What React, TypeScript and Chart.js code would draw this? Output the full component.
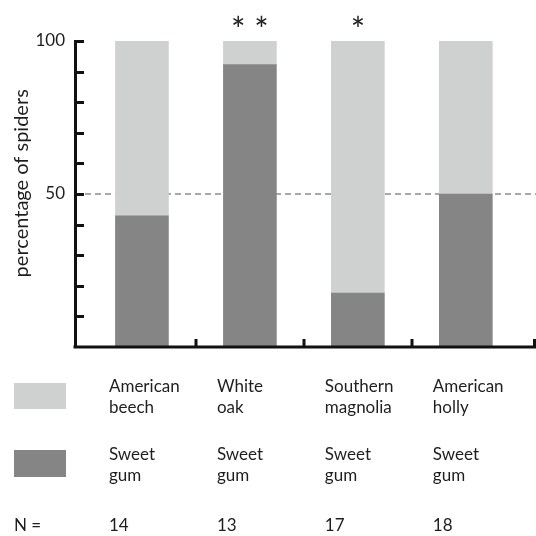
import React, { useEffect, useRef } from "react";
import { Chart, registerables } from "chart.js";

Chart.register(...registerables);

const categoryTop = [["American", "beech"], ["White", "oak"], ["Southern", "magnolia"], ["American", "holly"]];
const categoryBottom = [["Sweet", "gum"], ["Sweet", "gum"], ["Sweet", "gum"], ["Sweet", "gum"]];
const sweetGumPct = [42.86, 92.31, 17.65, 50];
const otherPct = [57.14, 7.69, 82.35, 50];
const nValues = [14, 13, 17, 18];
const significance = ["* *", "*"];
const significanceAt = [1, 2];
const yTickLabels = [50, 100];
const yMinorTicks = [10, 20, 30, 40, 50, 60, 70, 80, 90, 100];
const xTickValues = [0.5, 1.5, 2.5];
const yTitle = "percentage of spiders";

const LIGHT = "#cfd1d0";
const DARK = "#858585";
const TEXT = "#1e1e1e";
const FONT = "Lato, 'Open Sans', sans-serif";

export default function App() {
  const ref = useRef<HTMLCanvasElement | null>(null);

  useEffect(() => {
    const canvas = ref.current;
    if (!canvas) return;

    const refPlugin = {
      id: "refline",
      beforeDatasetsDraw(chart: any) {
        const { ctx, chartArea, scales } = chart;
        const y = scales.y.getPixelForValue(50);
        ctx.save();
        ctx.strokeStyle = "#a9a9a9";
        ctx.lineWidth = 2;
        ctx.setLineDash([6, 4]);
        ctx.beginPath();
        ctx.moveTo(chartArea.left, y);
        ctx.lineTo(chartArea.right, y);
        ctx.stroke();
        ctx.restore();
      },
    };

    const decoPlugin = {
      id: "deco",
      afterDraw(chart: any) {
        const { ctx, chartArea, scales } = chart;
        const xs = scales.x;
        const ys = scales.y;
        ctx.save();
        ctx.strokeStyle = "#111";
        ctx.lineWidth = 3;
        yMinorTicks.forEach((v) => {
          const py = Math.round(ys.getPixelForValue(v)) + 0.5;
          ctx.beginPath();
          ctx.moveTo(chartArea.left, py);
          ctx.lineTo(chartArea.left + 9, py);
          ctx.stroke();
        });
        const bottom = ys.getPixelForValue(0);
        ctx.beginPath();
        ctx.moveTo(chartArea.left - 1.5, bottom);
        ctx.lineTo(chartArea.right, bottom);
        ctx.stroke();
        [...xTickValues, xs.max].forEach((v) => {
          const px = Math.min(Math.round(xs.getPixelForValue(v)), chartArea.right - 1.5);
          ctx.beginPath();
          ctx.moveTo(px, bottom);
          ctx.lineTo(px, bottom - 8);
          ctx.stroke();
        });

        // y-axis title
        ctx.save();
        ctx.fillStyle = TEXT;
        ctx.font = `20px ${FONT}`;
        ctx.textAlign = "center";
        ctx.textBaseline = "middle";
        ctx.translate(22, ys.getPixelForValue(53.5));
        ctx.rotate(-Math.PI / 2);
        ctx.fillText(yTitle, 0, 0);
        ctx.restore();

        ctx.fillStyle = "#222";
        ctx.font = `34px ${FONT}`;
        ctx.textAlign = "center";
        ctx.textBaseline = "alphabetic";
        significance.forEach((s, k) => {
          ctx.fillText(s, xs.getPixelForValue(significanceAt[k]), 42);
        });

        ctx.fillStyle = LIGHT;
        ctx.fillRect(14, 383, 52, 26);
        ctx.fillStyle = DARK;
        ctx.fillRect(14, 450, 52, 27);

        ctx.fillStyle = TEXT;
        ctx.font = `17px ${FONT}`;
        ctx.textAlign = "left";
        categoryTop.forEach((lines, i) => {
          const x0 = xs.getPixelForValue(i) - 33;
          lines.forEach((t, j) => ctx.fillText(t, x0, 392 + j * 21));
        });
        categoryBottom.forEach((lines, i) => {
          const x0 = xs.getPixelForValue(i) - 33;
          lines.forEach((t, j) => ctx.fillText(t, x0, 460 + j * 21));
        });
        ctx.fillText("N =", 14, 531);
        nValues.forEach((n, i) => {
          ctx.fillText(String(n), xs.getPixelForValue(i) - 33, 531);
        });
        ctx.restore();
      },
    };

    const chart = new Chart(canvas, {
      type: "bar",
      data: {
        datasets: [
          {
            label: "Sweet gum",
            data: sweetGumPct.map((v, i) => ({ x: i, y: v })),
            backgroundColor: DARK,
            borderWidth: 0,
            barThickness: 53,
          },
          {
            label: "Other",
            data: otherPct.map((v, i) => ({ x: i, y: v })),
            backgroundColor: LIGHT,
            borderWidth: 0,
            barThickness: 53,
          },
        ],
      },
      options: {
        responsive: false,
        animation: false,
        maintainAspectRatio: false,
        layout: { padding: { top: 41, right: 0, bottom: 189, left: 0 } },
        plugins: { legend: { display: false }, tooltip: { enabled: false } },
        scales: {
          x: {
            type: "linear",
            stacked: true,
            offset: false,
            min: -0.62,
            max: 3.65,
            display: false,
            grid: { offset: false },
          },
          y: {
            stacked: true,
            min: 0,
            max: 100,
            afterFit(scale: any) {
              scale.width = 75;
            },
            grid: { display: false, drawTicks: false },
            border: { display: true, color: "#111", width: 3 },
            ticks: {
              stepSize: 10,
              padding: 10,
              color: TEXT,
              font: { family: FONT, size: 17 },
              callback: (v: any) => (yTickLabels.includes(Number(v)) ? String(v) : ""),
            },
            title: { display: false },
          },
        },
      },
      plugins: [refPlugin, decoPlugin],
    });

    return () => chart.destroy();
  }, []);

  return (
    <div style={{ position: "fixed", left: 0, top: 0, width: 536, height: 536, background: "#fff" }}>
      <canvas ref={ref} width={536} height={536} style={{ display: "block", width: 536, height: 536 }} />
    </div>
  );
}
